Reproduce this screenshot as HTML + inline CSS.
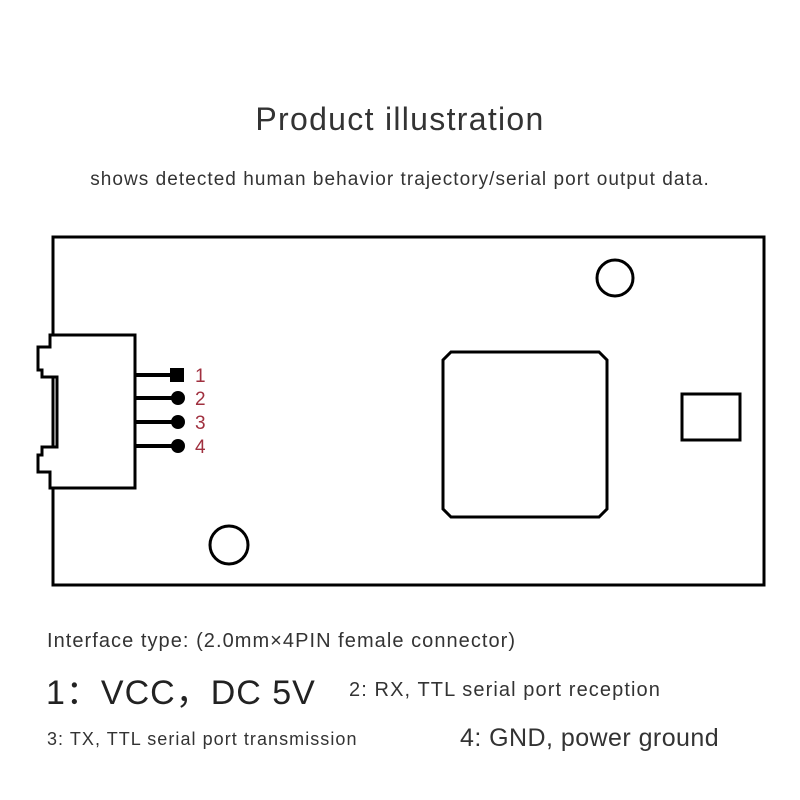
<!DOCTYPE html>
<html><head><style>
body{margin:0;background:#fff;width:800px;height:800px;overflow:hidden;font-family:"Liberation Sans",sans-serif;}
.t{position:absolute;white-space:nowrap;color:#333;}
</style></head><body>
<div class="t" style="left:0;width:800px;text-align:center;top:101px;font-size:32px;letter-spacing:1.3px;color:#333">Product illustration</div>
<div class="t" style="left:0;width:800px;text-align:center;top:169px;font-size:19px;letter-spacing:1.05px;">shows detected human behavior trajectory/serial port output data.</div>
<svg width="800" height="800" style="position:absolute;left:0;top:0" fill="none" stroke="#000" stroke-width="3">
<rect x="53" y="237" width="711" height="348"/>
<circle cx="615" cy="278" r="18"/>
<circle cx="229" cy="545" r="19"/>
<polygon points="451,352 599,352 607,360 607,509 599,517 451,517 443,509 443,360"/>
<rect x="682" y="394" width="58" height="46"/>
<path d="M53,335 H135 V488 H50 V472 H38 V455 H42 V447 H57 V377 H42 V370 H38 V347 H50 V335 Z" fill="#fff"/>
<g stroke-width="4">
<line x1="135" y1="375" x2="175" y2="375"/>
<line x1="135" y1="398" x2="175" y2="398"/>
<line x1="135" y1="422" x2="175" y2="422"/>
<line x1="135" y1="446" x2="175" y2="446"/>
</g>
<rect x="170" y="368" width="14" height="14" fill="#000" stroke="none"/>
<circle cx="178" cy="398" r="7" fill="#000" stroke="none"/>
<circle cx="178" cy="422" r="7" fill="#000" stroke="none"/>
<circle cx="178" cy="446" r="7" fill="#000" stroke="none"/>
<g fill="#a0303f" stroke="none" font-family="Liberation Sans" font-size="19">
<text x="195" y="382">1</text><text x="195" y="405">2</text><text x="195" y="429">3</text><text x="195" y="453">4</text>
</g>
</svg>
<div class="t" style="left:47px;top:630px;font-size:20px;letter-spacing:1.05px;">Interface type: (2.0mm×4PIN female connector)</div>
<div class="t" style="left:46px;top:665px;font-size:34px;letter-spacing:1px;color:#222">1：VCC，DC 5V</div>
<div class="t" style="left:349px;top:679px;font-size:20px;letter-spacing:1.1px;">2: RX, TTL serial port reception</div>
<div class="t" style="left:47px;top:729px;font-size:18px;letter-spacing:1.05px;">3: TX, TTL serial port transmission</div>
<div class="t" style="left:460px;top:724px;font-size:25px;letter-spacing:0.45px;">4: GND, power ground</div>
</body></html>
